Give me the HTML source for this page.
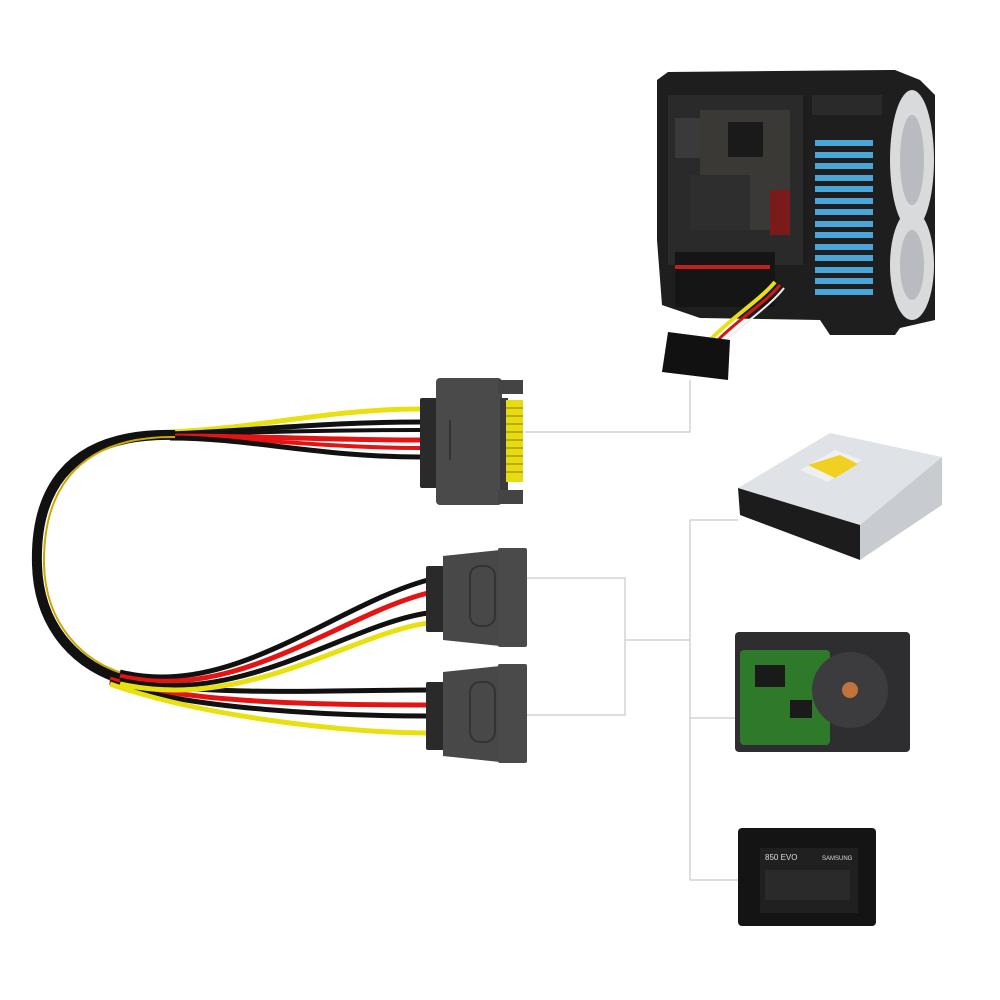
<!DOCTYPE html>
<html><head><meta charset="utf-8"><style>
html,body{margin:0;padding:0;background:#fff;}
svg{display:block;}
</style></head><body>
<svg width="1000" height="1000" viewBox="0 0 1000 1000" xmlns="http://www.w3.org/2000/svg">
<rect width="1000" height="1000" fill="#fff"/>

<g stroke="#d4d4d4" stroke-width="1.5" fill="none">
  <polyline points="525,432 690,432 690,380"/>
  <polyline points="525,578 625,578 625,715 525,715"/>
  <line x1="625" y1="640" x2="690" y2="640"/>
  <line x1="690" y1="520" x2="690" y2="880"/>
  <line x1="690" y1="520" x2="738" y2="520"/>
  <line x1="690" y1="718" x2="738" y2="718"/>
  <line x1="690" y1="880" x2="738" y2="880"/>
</g>

<g>
  <polygon points="657,80 668,72 895,70 920,80 935,95 935,320 900,328 895,335 830,335 820,320 700,318 662,305 657,240" fill="#1e1e1e"/>
  <rect x="668" y="95" width="135" height="170" fill="#2a2a2a"/>
  <rect x="675" y="118" width="30" height="40" fill="#3a3a3a"/>
  <rect x="700" y="110" width="90" height="120" fill="#3b3936"/>
  <rect x="728" y="122" width="35" height="35" fill="#1a1a1a"/>
  <rect x="770" y="190" width="20" height="45" fill="#7a1a1a"/>
  <rect x="690" y="175" width="60" height="55" fill="#2e2e2e"/>
  <rect x="675" y="252" width="100" height="55" fill="#151515"/>
  <rect x="675" y="265" width="95" height="4" fill="#c02020"/>
  <rect x="812" y="95" width="70" height="20" fill="#2a2a2a"/>
  <g fill="#4aa6d8">
    <rect x="815" y="140" width="58" height="6"/><rect x="815" y="152" width="58" height="6"/>
    <rect x="815" y="163" width="58" height="6"/><rect x="815" y="175" width="58" height="6"/>
    <rect x="815" y="186" width="58" height="6"/><rect x="815" y="198" width="58" height="6"/>
    <rect x="815" y="209" width="58" height="6"/><rect x="815" y="221" width="58" height="6"/>
    <rect x="815" y="232" width="58" height="6"/><rect x="815" y="244" width="58" height="6"/>
    <rect x="815" y="255" width="58" height="6"/><rect x="815" y="267" width="58" height="6"/>
    <rect x="815" y="278" width="58" height="6"/><rect x="815" y="289" width="58" height="6"/>
  </g>
  <ellipse cx="912" cy="160" rx="22" ry="70" fill="#d8dadc"/>
  <ellipse cx="912" cy="265" rx="22" ry="55" fill="#d8dadc"/>
  <ellipse cx="912" cy="160" rx="12" ry="45" fill="#b8bcc0"/>
  <ellipse cx="912" cy="265" rx="12" ry="35" fill="#b8bcc0"/>
  <path d="M775,282 C760,300 735,315 712,338" stroke="#e8e010" stroke-width="4" fill="none"/>
  <path d="M780,285 C765,303 740,318 718,340" stroke="#d01818" stroke-width="3" fill="none"/>
  <path d="M784,288 C770,306 745,322 724,342" stroke="#eee" stroke-width="2" fill="none"/>
  <polygon points="668,332 730,340 728,380 662,372" fill="#111"/>
</g>

<g fill="none" stroke-linecap="butt">
  <path d="M420,409 C330,409 260,428 170,432" stroke="#e8e010" stroke-width="5"/>
  <path d="M420,422 C330,422 260,430 170,434" stroke="#111" stroke-width="5"/>
  <path d="M420,430 C330,430 260,432 170,435" stroke="#111" stroke-width="4"/>
  <path d="M420,440 C330,440 260,436 170,436" stroke="#e51414" stroke-width="5"/>
  <path d="M420,448 C330,448 260,438 170,437" stroke="#e51414" stroke-width="4"/>
  <path d="M420,457 C320,457 250,438 170,438" stroke="#111" stroke-width="5"/>
  <path d="M175,435 C60,432 35,500 37,565 C39,630 80,668 125,680" stroke="#111" stroke-width="10"/>
  <path d="M175,437 C67,436 43,502 44,565 C46,626 84,662 125,674" stroke="#c9a800" stroke-width="2"/>
  <path d="M110,676 C180,698 330,690 428,690" stroke="#111" stroke-width="5"/>
  <path d="M110,679 C185,704 335,705 428,705" stroke="#e51414" stroke-width="5"/>
  <path d="M110,682 C190,710 340,716 428,716" stroke="#111" stroke-width="5"/>
  <path d="M110,684 C200,716 345,733 428,733" stroke="#e8e010" stroke-width="5"/>
  <path d="M120,672 C230,700 335,605 428,580" stroke="#111" stroke-width="5"/>
  <path d="M120,676 C235,704 340,615 428,593" stroke="#e51414" stroke-width="5"/>
  <path d="M120,680 C240,708 345,625 428,613" stroke="#111" stroke-width="5"/>
  <path d="M120,684 C245,712 350,634 428,623" stroke="#e8e010" stroke-width="5"/>
</g>

<g>
  <rect x="420" y="398" width="20" height="90" rx="2" fill="#2a2a2a"/>
  <rect x="436" y="378" width="66" height="127" rx="4" fill="#4a4a4a"/>
  <rect x="498" y="380" width="25" height="14" fill="#444"/>
  <rect x="498" y="490" width="25" height="14" fill="#444"/>
  <rect x="500" y="398" width="8" height="92" fill="#3a3a3a"/>
  <rect x="506" y="400" width="17" height="82" fill="#e8dc10"/>
  <g stroke="#8a7a00" stroke-width="1">
    <line x1="506" y1="408" x2="523" y2="408"/><line x1="506" y1="416" x2="523" y2="416"/>
    <line x1="506" y1="424" x2="523" y2="424"/><line x1="506" y1="432" x2="523" y2="432"/>
    <line x1="506" y1="440" x2="523" y2="440"/><line x1="506" y1="448" x2="523" y2="448"/>
    <line x1="506" y1="456" x2="523" y2="456"/><line x1="506" y1="464" x2="523" y2="464"/>
    <line x1="506" y1="472" x2="523" y2="472"/>
  </g>
  <line x1="450" y1="420" x2="450" y2="460" stroke="#333" stroke-width="2"/>
</g>

<g>
  <rect x="426" y="566" width="20" height="66" rx="2" fill="#2a2a2a"/>
  <polygon points="443,556 500,550 500,646 443,640" fill="#484848"/>
  <rect x="498" y="548" width="29" height="99" rx="2" fill="#4a4a4a"/>
  <rect x="470" y="566" width="25" height="60" rx="10" fill="none" stroke="#333" stroke-width="2"/>
  <rect x="426" y="682" width="20" height="68" rx="2" fill="#2a2a2a"/>
  <polygon points="443,672 500,666 500,762 443,756" fill="#484848"/>
  <rect x="498" y="664" width="29" height="99" rx="2" fill="#4a4a4a"/>
  <rect x="470" y="682" width="25" height="60" rx="10" fill="none" stroke="#333" stroke-width="2"/>
</g>

<g>
  <polygon points="738,488 830,433 942,457 860,525" fill="#dfe2e6"/>
  <polygon points="860,525 942,457 942,505 860,560" fill="#c8cbcf"/>
  <polygon points="738,488 860,525 860,560 740,515" fill="#1c1c1c"/>
  <polygon points="800,470 835,450 862,460 828,482" fill="#f0f0f0"/>
  <polygon points="808,465 840,455 858,464 835,478" fill="#f0d020"/>
</g>

<g>
  <rect x="735" y="632" width="175" height="120" rx="4" fill="#2e2e30"/>
  <rect x="740" y="650" width="90" height="95" rx="4" fill="#2f7a2a"/>
  <rect x="755" y="665" width="30" height="22" fill="#1a1a1a"/>
  <rect x="790" y="700" width="22" height="18" fill="#1a1a1a"/>
  <circle cx="850" cy="690" r="38" fill="#3c3c3e"/>
  <circle cx="850" cy="690" r="8" fill="#c0743c"/>
</g>

<g>
  <rect x="738" y="828" width="138" height="98" rx="4" fill="#141414"/>
  <rect x="760" y="848" width="98" height="65" fill="#202020"/>
  <text x="765" y="860" font-family="Liberation Sans, sans-serif" font-size="8" fill="#ddd">850 EVO</text>
  <text x="822" y="860" font-family="Liberation Sans, sans-serif" font-size="6" fill="#ddd">SAMSUNG</text>
  <rect x="765" y="870" width="85" height="30" fill="#2a2a2a"/>
</g>
</svg>
</body></html>
